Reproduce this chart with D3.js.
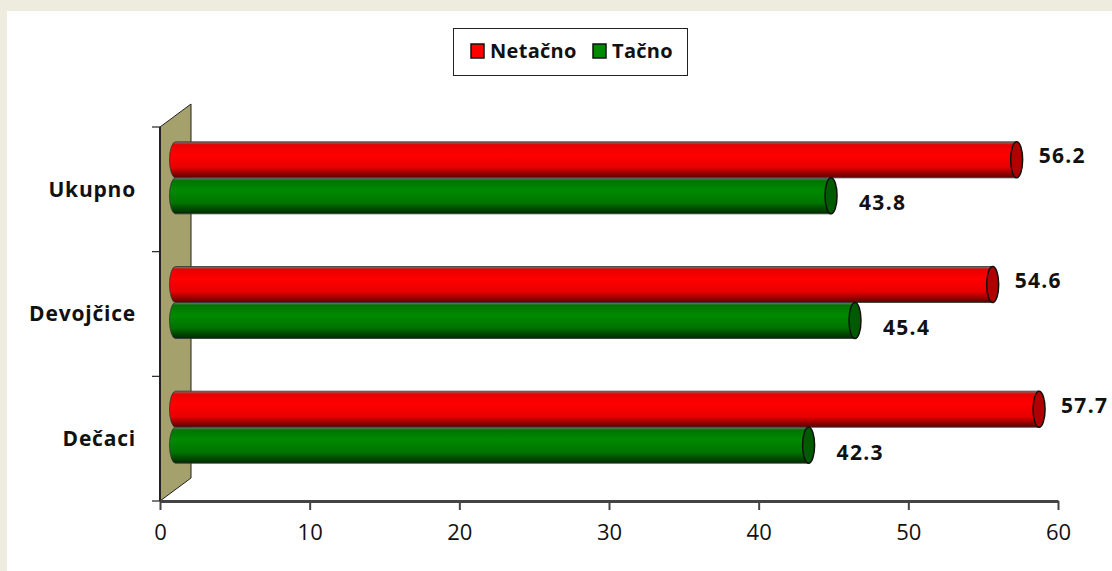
<!DOCTYPE html>
<html>
<head>
<meta charset="utf-8">
<script src="https://cdn.jsdelivr.net/npm/d3@7"></script>
<style>
    html, body { margin: 0; padding: 0; background: #eeebdf; }
    svg { display: block; }
    text { font-family: "Open Sans", sans-serif; fill: #111; }
</style>
</head>
<body>
<svg id="chart" width="1112" height="571"></svg>
<script>
// chart data
var categories = ["Ukupno", "Devojčice", "Dečaci"];
var seriesNames = ["Netačno", "Tačno"];
var netacno = [56.2, 54.6, 57.7];
var tacno = [43.8, 45.4, 42.3];
var xTicks = [0, 10, 20, 30, 40, 50, 60];

var rows = categories.map(function(c, i) {
    return { name: c, values: [netacno[i], tacno[i]] };
});

var colors = {
    "Netačno": { light: "#ff0000", mid: "#e80000", dark: "#5a0000", cap: "#b00000" },
    "Tačno": { light: "#008a00", mid: "#007400", dark: "#002800", cap: "#005a00" }
};

var svg = d3.select("#chart");

// white panel
svg.append("rect")
    .attr("x", 7).attr("y", 11)
    .attr("width", 1112).attr("height", 571)
    .attr("fill", "#fff");

// scales, the front plane of the 3d box
var x = d3.scaleLinear().domain([0, 60]).range([160, 1058]);
var y = d3.scaleBand().domain(categories).range([127, 501]);
var depth = { dx: 31, dy: -23 };
var barH = 36;
var ySeries = d3.scaleBand().domain(seriesNames).range([-barH, barH]);

var defs = svg.append("defs");
seriesNames.forEach(function(s, i) {
    var g = defs.append("linearGradient")
        .attr("id", "grad" + i)
        .attr("x1", 0).attr("y1", 0).attr("x2", 0).attr("y2", 1);
    g.append("stop").attr("offset", "0%").attr("stop-color", "#777");
    g.append("stop").attr("offset", "8%").attr("stop-color", colors[s].mid);
    g.append("stop").attr("offset", "35%").attr("stop-color", colors[s].light);
    g.append("stop").attr("offset", "70%").attr("stop-color", colors[s].mid);
    g.append("stop").attr("offset", "100%").attr("stop-color", colors[s].dark);
});

// side wall
var y0 = y.range()[0], y1 = y.range()[1];
svg.append("path")
    .attr("d", "M" + x(0) + "," + y1 +
        "L" + (x(0) + depth.dx) + "," + (y1 + depth.dy) +
        "L" + (x(0) + depth.dx) + "," + (y0 + depth.dy) +
        "L" + x(0) + "," + y0 + "Z")
    .attr("fill", "#a4a16c")
    .attr("stroke", "#222")
    .attr("stroke-width", 1);

svg.append("line")
    .attr("x1", x(0)).attr("x2", x(0))
    .attr("y1", y0).attr("y2", y1)
    .attr("stroke", "#222").attr("stroke-width", 2);

// category ticks on the wall front
var catTicks = categories.map(function(c) { return y(c); }).concat([y1]);
svg.selectAll(".ytick")
    .data(catTicks)
    .enter()
    .append("line")
    .attr("x1", x(0) - 8).attr("x2", x(0))
    .attr("y1", function(d) { return d; })
    .attr("y2", function(d) { return d; })
    .attr("stroke", "#222").attr("stroke-width", 1.2);

svg.selectAll(".ylabel")
    .data(categories)
    .enter()
    .append("text")
    .attr("x", 136)
    .attr("y", function(d) { return y(d) + y.bandwidth() / 2; })
    .attr("dy", "0.35em")
    .attr("text-anchor", "end")
    .style("font-size", "21px")
    .style("font-weight", "bold")
    .style("letter-spacing", "0.8px")
    .text(function(d) { return d; });

// x axis
var xAxis = svg.append("g")
    .attr("transform", "translate(0," + y1 + ")")
    .call(d3.axisBottom(x).tickValues(xTicks).tickSize(9).tickPadding(14).tickSizeOuter(0));
xAxis.select(".domain").attr("stroke", "#444").attr("stroke-width", 3);
xAxis.selectAll(".tick line").attr("stroke", "#444").attr("stroke-width", 2);
xAxis.selectAll(".tick text")
    .style("font-family", "'Open Sans', sans-serif")
    .style("font-size", "22px")
    .attr("fill", "#222");

// cylinders, at half depth
var off = { dx: depth.dx / 2, dy: depth.dy / 2 };
var rx = 6;

var bars = [];
rows.forEach(function(r) {
    seriesNames.forEach(function(s, i) {
        bars.push({ cat: r.name, series: s, idx: i, value: r.values[i] });
    });
});

var barG = svg.append("g");
bars.forEach(function(b) {
    var top = y(b.cat) + y.bandwidth() / 2 + ySeries(b.series) + off.dy;
    var ry = barH / 2;
    var xs = x(0) + off.dx;
    var xe = x(b.value) + off.dx;
    var g = barG.append("g");
    g.append("path")
        .attr("d", "M" + xe + "," + top +
            "L" + xs + "," + top +
            "A" + rx + "," + ry + " 0 0 0 " + xs + "," + (top + barH) +
            "L" + xe + "," + (top + barH) + "Z")
        .attr("fill", "url(#grad" + b.idx + ")")
        .attr("stroke", "#333")
        .attr("stroke-width", 0.8);
    g.append("ellipse")
        .attr("cx", xe).attr("cy", top + ry)
        .attr("rx", rx).attr("ry", ry)
        .attr("fill", colors[b.series].cap)
        .attr("stroke", "#111")
        .attr("stroke-width", 1.5);
    b.xe = xe;
    b.cy = top + ry;
});

// value labels
svg.selectAll(".val")
    .data(bars)
    .enter()
    .append("text")
    .attr("x", function(d) { return d.xe + (d.idx === 0 ? 22 : 28); })
    .attr("y", function(d) { return d.cy + (d.idx === 0 ? -4 : 7); })
    .attr("dy", "0.35em")
    .style("font-size", "21px")
    .style("font-weight", "bold")
    .style("letter-spacing", "1.3px")
    .text(function(d) { return d.value.toFixed(1); });

// legend
var legend = svg.append("g");
legend.append("rect")
    .attr("x", 453.5).attr("y", 28.5)
    .attr("width", 234).attr("height", 47)
    .attr("fill", "#fff")
    .attr("stroke", "#222").attr("stroke-width", 1);
var legX = [471, 593];
seriesNames.forEach(function(s, i) {
    legend.append("rect")
        .attr("x", legX[i]).attr("y", 44)
        .attr("width", 13).attr("height", 14)
        .attr("fill", colors[s].light)
        .attr("stroke", "#111").attr("stroke-width", 1.5);
    legend.append("text")
        .attr("x", legX[i] + 19).attr("y", 51)
        .attr("dy", "0.35em")
        .style("font-size", "20px")
        .style("font-weight", "bold")
        .style("letter-spacing", "0.3px")
        .text(s);
});
</script>
</body>
</html>
